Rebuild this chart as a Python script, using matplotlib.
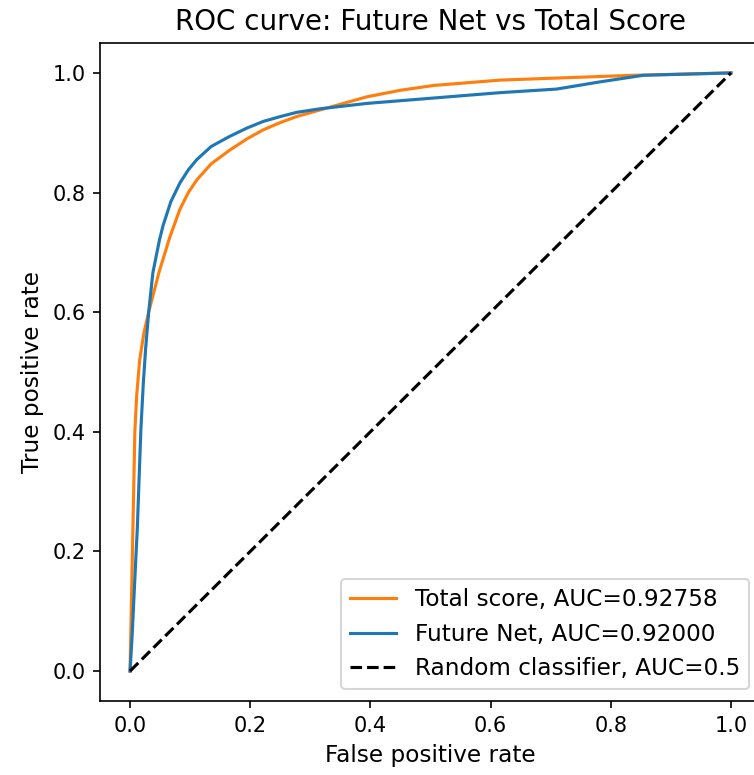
import matplotlib
matplotlib.use("Agg")
import matplotlib.pyplot as plt
import numpy as np

# ROC points
fpr_total = [0.0, 0.002, 0.004, 0.006, 0.008, 0.011, 0.016, 0.023, 0.031, 0.040, 0.048,
             0.066, 0.083, 0.097, 0.111, 0.135, 0.166, 0.195, 0.222, 0.250, 0.277,
             0.316, 0.394, 0.450, 0.505, 0.616, 0.727, 0.837, 1.0]
tpr_total = [0.0, 0.10, 0.20, 0.30, 0.40, 0.46, 0.52, 0.565, 0.60, 0.635, 0.666,
             0.725, 0.772, 0.800, 0.821, 0.848, 0.871, 0.890, 0.905, 0.917, 0.927,
             0.938, 0.960, 0.971, 0.979, 0.988, 0.992, 0.996, 1.0]

fpr_net = [0.0, 0.0035, 0.0095, 0.012, 0.018, 0.022, 0.026, 0.031, 0.038,
           0.049, 0.055, 0.068, 0.083, 0.097, 0.111, 0.135, 0.166, 0.195, 0.222,
           0.250, 0.277, 0.316, 0.394, 0.505, 0.616, 0.71, 0.782, 0.854, 1.0]
tpr_net = [0.0, 0.06, 0.186, 0.236, 0.403, 0.48, 0.54, 0.60, 0.666,
           0.721, 0.745, 0.785, 0.816, 0.838, 0.855, 0.877, 0.894, 0.908, 0.919,
           0.927, 0.934, 0.940, 0.949, 0.958, 0.967, 0.973, 0.985, 0.996, 1.0]

auc_total = 0.92758
auc_net = 0.92000
chance = [0, 1]

plt.rcParams['font.size'] = 11.1

fig = plt.figure(figsize=(754/150, 775/150), dpi=150)
ax = fig.add_axes([100/754, 74/775, 661/754, 658/775])

ax.plot(fpr_total, tpr_total, color='tab:orange', label=f'Total score, AUC={auc_total:.5f}')
ax.plot(fpr_net, tpr_net, color='tab:blue', label=f'Future Net, AUC={auc_net:.5f}')
ax.plot(chance, chance, 'k--', label='Random classifier, AUC=0.5')

ax.set_xlabel('False positive rate')
ax.set_ylabel('True positive rate')
ax.set_title('ROC curve: Future Net vs Total Score', fontsize=13.3)
ax.tick_params(labelsize=10)
ax.legend(loc='lower right')

fig.savefig('out.png', dpi=150)
